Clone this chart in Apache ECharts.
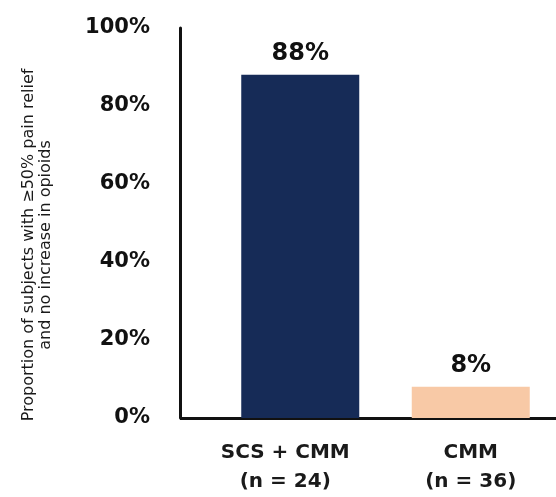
<!DOCTYPE html>
<html>
<head>
<meta charset="utf-8">
<script src="https://cdn.jsdelivr.net/npm/echarts@6/dist/echarts.min.js"></script>
<style>
  html, body { margin: 0; padding: 0; background: #fff; }
  #chart { width: 556px; height: 497px; }
</style>
</head>
<body>
<div id="chart"></div>
<script>
// groups on the x axis
const categories = ['SCS + CMM\n(n = 24)', 'CMM\n(n = 36)'];
// proportion of subjects, in percent
const values = [88, 8];
const barColors = ['#162b57', '#f8c9a6'];
const yTicks = [0, 20, 40, 60, 80, 100];
const yTitle = 'Proportion of subjects with \u226550% pain relief\nand no increase in opioids';

const font = 'DejaVu Sans';
const chart = echarts.init(document.getElementById('chart'));

chart.setOption({
    animation: false,
    grid: { left: 215, right: 0, top: 28, bottom: 79 },
    xAxis: {
        type: 'category',
        data: categories.map((c, i) => ({
            value: c,
            // first label sits a bit left of its bar in the original
            textStyle: i === 0 ? { padding: [0, 30, 0, 0] } : {}
        })),
        axisLine: { lineStyle: { color: '#111', width: 3 } },
        axisTick: { show: false },
        axisLabel: {
            margin: 20,
            fontFamily: font,
            fontSize: 20,
            fontWeight: 'bold',
            lineHeight: 29,
            color: '#1a1a1a',
            interval: 0
        }
    },
    yAxis: {
        type: 'value',
        min: yTicks[0],
        max: yTicks[yTicks.length - 1],
        interval: 20,
        offset: 35,
        splitLine: { show: false },
        axisTick: { show: false },
        axisLine: { show: true, lineStyle: { color: '#111', width: 3 } },
        axisLabel: {
            margin: 30,
            fontFamily: font,
            fontSize: 21,
            fontWeight: 'bold',
            color: '#111',
            formatter: v => v + '%'
        },
        name: yTitle,
        nameLocation: 'middle',
        nameGap: 126,
        nameTextStyle: {
            fontFamily: font,
            fontSize: 16,
            lineHeight: 17,
            color: '#1a1a1a',
            padding: [0, 44, 0, 0]
        }
    },
    graphic: [{
        // join the y axis line to the x axis line
        type: 'line',
        shape: { x1: 180, y1: 418.5, x2: 216, y2: 418.5 },
        style: { stroke: '#111', lineWidth: 3 }
    }],
    series: [{
        type: 'bar',
        barWidth: 118,
        data: values.map((v, i) => ({ value: v, itemStyle: { color: barColors[i] } })),
        label: {
            show: true,
            position: 'top',
            distance: 9,
            fontFamily: font,
            fontSize: 24,
            fontWeight: 'bold',
            color: '#111',
            formatter: p => p.value + '%'
        }
    }]
});
</script>
</body>
</html>
